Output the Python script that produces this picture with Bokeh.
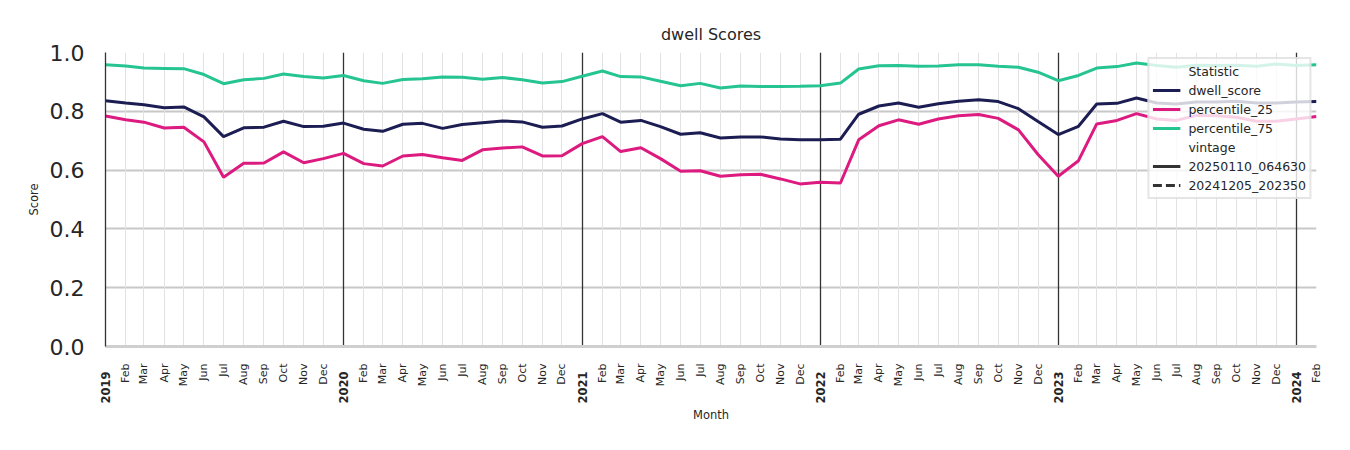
from math import pi
import pandas as pd
from bokeh.plotting import figure
from bokeh.models import (FixedTicker, Grid, Legend, LegendItem,
                          LinearAxis, Range1d, PrintfTickFormatter)
from bokeh.embed import file_html
from bokeh.resources import INLINE

# ---------------- data ----------------
months = pd.date_range("2019-01-01", "2024-02-01", freq="MS")

dwell_score = [
    0.836, 0.828, 0.822, 0.812, 0.815, 0.781, 0.714, 0.744, 0.746, 0.766, 0.748, 0.749,
    0.760, 0.739, 0.732, 0.756, 0.759, 0.742, 0.755, 0.761, 0.767, 0.764, 0.746, 0.750,
    0.774, 0.792, 0.763, 0.769, 0.748, 0.722, 0.727, 0.709, 0.713, 0.713, 0.706, 0.703,
    0.703, 0.705, 0.790, 0.818, 0.828, 0.814, 0.826, 0.834, 0.839, 0.833, 0.809, 0.765,
    0.721, 0.749, 0.825, 0.827, 0.845, 0.828, 0.825, 0.832, 0.832, 0.834, 0.828, 0.828,
    0.832, 0.833,
]
percentile_25 = [
    0.784, 0.771, 0.763, 0.743, 0.746, 0.696, 0.576, 0.623, 0.624, 0.662, 0.625, 0.639,
    0.657, 0.622, 0.614, 0.648, 0.653, 0.642, 0.633, 0.669, 0.675, 0.679, 0.648, 0.649,
    0.690, 0.714, 0.663, 0.676, 0.639, 0.596, 0.598, 0.579, 0.584, 0.586, 0.570, 0.553,
    0.559, 0.556, 0.703, 0.751, 0.771, 0.756, 0.774, 0.785, 0.789, 0.776, 0.737, 0.653,
    0.579, 0.632, 0.757, 0.769, 0.792, 0.774, 0.769, 0.786, 0.785, 0.780, 0.766, 0.766,
    0.774, 0.782,
]
percentile_75 = [
    0.958, 0.954, 0.947, 0.946, 0.945, 0.925, 0.894, 0.907, 0.912, 0.927, 0.918, 0.913,
    0.922, 0.904, 0.895, 0.908, 0.911, 0.917, 0.916, 0.909, 0.915, 0.907, 0.896, 0.901,
    0.919, 0.937, 0.918, 0.917, 0.902, 0.887, 0.895, 0.879, 0.886, 0.884, 0.884, 0.885,
    0.887, 0.896, 0.944, 0.955, 0.956, 0.953, 0.954, 0.958, 0.958, 0.953, 0.950, 0.933,
    0.904, 0.922, 0.947, 0.952, 0.964, 0.956, 0.950, 0.957, 0.956, 0.957, 0.953, 0.961,
    0.956, 0.958,
]
y_ticks = [0.0, 0.2, 0.4, 0.6, 0.8, 1.0]
vintages = ["20250110_064630", "20241205_202350"]
series_names = ["dwell_score", "percentile_25", "percentile_75"]

# ---------------- styling ----------------
FONT = "DejaVu Sans"
TXT = "#262626"
colors = {"dwell_score": "#1c1d52", "percentile_25": "#dc1a7f", "percentile_75": "#26c491"}

day = [int(d) for d in (months - months[0]).days]
year_days = [d for d, m in zip(day, months) if m.month == 1]

p = figure(width=1342, height=442, output_backend="svg", toolbar_location=None,
           x_axis_type=None, y_range=Range1d(0, 1), x_range=Range1d(day[0], day[-1]),
           min_border_left=105, min_border_right=26, min_border_top=52, min_border_bottom=96,
           title="dwell Scores")
p.outline_line_color = None
p.background_fill_color = "white"
p.border_fill_color = "white"

p.title.align = "center"
p.title.text_font = FONT
p.title.text_font_size = "16px"
p.title.text_font_style = "normal"
p.title.text_color = TXT
p.title.standoff = 17

# y axis
yax = p.yaxis[0]
yax.ticker = FixedTicker(ticks=y_ticks)
yax.formatter = PrintfTickFormatter(format="%.1f")
yax.axis_line_color = "#333333"
yax.axis_line_width = 1.3
yax.major_tick_line_color = None
yax.minor_tick_line_color = None
yax.major_tick_out = 0
yax.minor_tick_out = 0
yax.major_label_standoff = 21
yax.major_label_text_font = FONT
yax.major_label_text_font_size = "22px"
yax.major_label_text_color = TXT
yax.axis_label = "Score"
yax.axis_label_text_font = FONT
yax.axis_label_text_font_size = "11.5px"
yax.axis_label_text_font_style = "normal"
yax.axis_label_text_color = TXT
yax.axis_label_standoff = 6

p.ygrid.ticker = FixedTicker(ticks=y_ticks)
p.ygrid.grid_line_color = "#c8c8c8"
p.ygrid.grid_line_width = 2

# x axis: months (normal) on the first axis, years (bold) on the second
month_labels = {d: ("" if m.month == 1 else m.strftime("%b")) for d, m in zip(day, months)}
xax = LinearAxis(ticker=FixedTicker(ticks=day), major_label_overrides=month_labels)
xax.major_label_orientation = pi / 2
xax.major_tick_line_color = None
xax.minor_tick_line_color = None
xax.major_tick_out = 0
xax.minor_tick_out = 0
xax.major_label_standoff = 17
xax.major_label_text_font = FONT
xax.major_label_text_font_size = "11px"
xax.major_label_text_color = TXT
xax.axis_line_color = "#cfcfcf"
xax.axis_line_width = 3
p.add_layout(xax, "below")

year_labels = {d: str(m.year) for d, m in zip(day, months) if m.month == 1}
yrax = LinearAxis(ticker=FixedTicker(ticks=year_days), major_label_overrides=year_labels)
yrax.major_label_orientation = pi / 2
yrax.axis_line_color = None
yrax.major_tick_line_color = None
yrax.minor_tick_line_color = None
yrax.major_tick_out = 0
yrax.minor_tick_out = 0
yrax.major_label_standoff = -18
yrax.major_label_text_font = FONT
yrax.major_label_text_font_size = "11.5px"
yrax.major_label_text_font_style = "bold"
yrax.major_label_text_color = TXT
yrax.axis_label = "Month"
yrax.axis_label_text_font = FONT
yrax.axis_label_text_font_size = "11.5px"
yrax.axis_label_text_font_style = "normal"
yrax.axis_label_text_color = TXT
yrax.axis_label_standoff = 1
p.add_layout(yrax, "below")

month_grid = Grid(dimension=0, ticker=FixedTicker(ticks=day),
                  grid_line_color="#e2e2e2", grid_line_width=1)
year_grid = Grid(dimension=0, ticker=FixedTicker(ticks=year_days),
                 grid_line_color="#333333", grid_line_width=1.3)
p.add_layout(month_grid)
p.add_layout(year_grid)

# lines
values = {"dwell_score": dwell_score, "percentile_25": percentile_25,
          "percentile_75": percentile_75}
renderers = {}
for name in series_names:
    renderers[name] = p.line(day, values[name], line_color=colors[name], line_width=3)

# legend-only renderers (no visible data)
nan = float("nan")
blank1 = p.line([nan], [nan], line_alpha=0)
blank2 = p.line([nan], [nan], line_alpha=0)
v_solid = p.line([nan], [nan], line_color="#333333", line_width=3)
v_dash = p.line([nan], [nan], line_color="#333333", line_width=3, line_dash="9 4")

items = [LegendItem(label="Statistic", renderers=[blank1])]
items += [LegendItem(label=n, renderers=[renderers[n]]) for n in series_names]
items += [LegendItem(label="vintage", renderers=[blank2]),
          LegendItem(label=vintages[0], renderers=[v_solid]),
          LegendItem(label=vintages[1], renderers=[v_dash])]

legend = Legend(items=items, location="top_right")
legend.margin = 5
legend.padding = 3
legend.spacing = 1
legend.label_height = 18
legend.glyph_height = 18
legend.glyph_width = 28
legend.label_standoff = 8
legend.label_text_font = FONT
legend.label_text_font_size = "12.5px"
legend.label_text_color = TXT
legend.background_fill_color = "white"
legend.background_fill_alpha = 0.8
legend.border_line_color = "#cccccc"
legend.border_line_width = 2
p.add_layout(legend, "center")

open("out.html", "w").write(file_html(p, INLINE))
